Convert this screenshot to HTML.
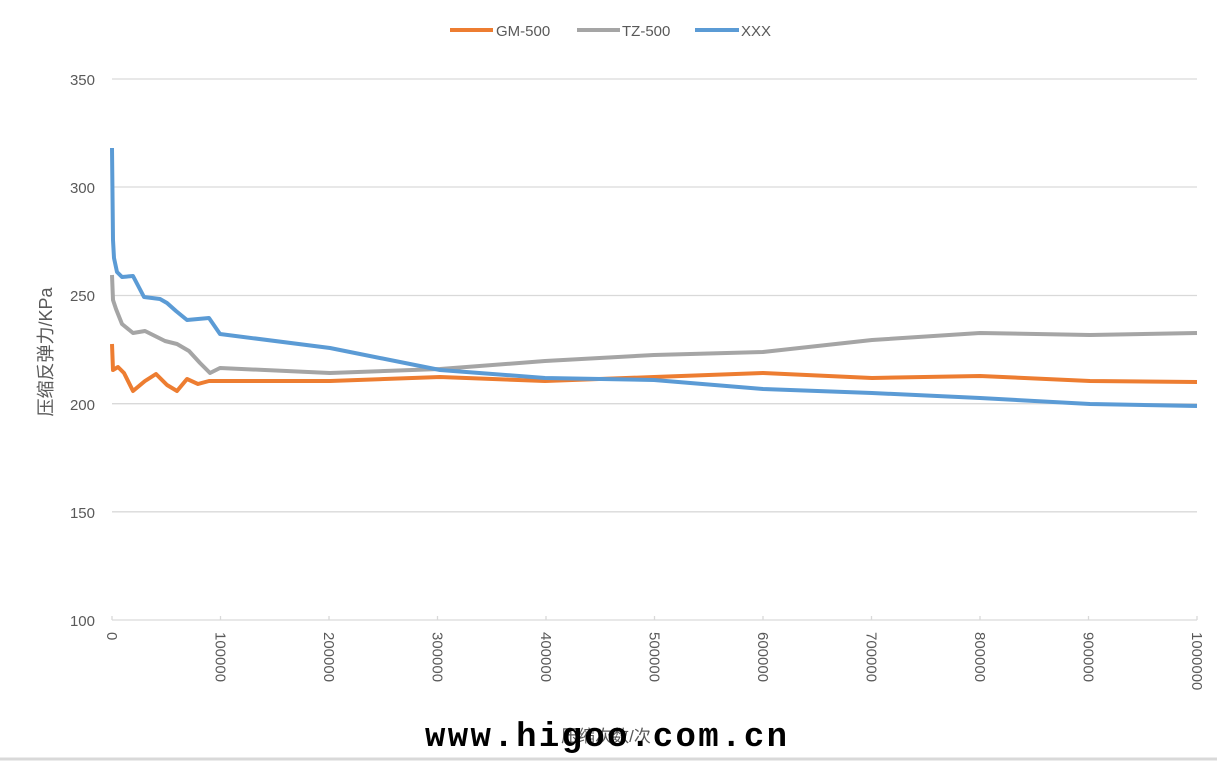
<!DOCTYPE html>
<html><head><meta charset="utf-8"><style>
body{margin:0;background:#fff;}
svg text{font-family:"Liberation Sans","Noto Sans CJK SC",sans-serif;fill:#595959;}
</style></head><body>
<svg width="1217" height="761" viewBox="0 0 1217 761" xmlns="http://www.w3.org/2000/svg">
<rect width="1217" height="761" fill="#fff"/>
<g stroke="#d9d9d9" stroke-width="1.3">
<line x1="112" y1="79" x2="1197" y2="79"/>
<line x1="112" y1="187" x2="1197" y2="187"/>
<line x1="112" y1="295.5" x2="1197" y2="295.5"/>
<line x1="112" y1="403.7" x2="1197" y2="403.7"/>
<line x1="112" y1="511.8" x2="1197" y2="511.8"/>
<line x1="112" y1="620" x2="1197" y2="620"/>
<line x1="112" y1="616" x2="112" y2="620"/><line x1="220.5" y1="616" x2="220.5" y2="620"/><line x1="329" y1="616" x2="329" y2="620"/><line x1="437.5" y1="616" x2="437.5" y2="620"/><line x1="546" y1="616" x2="546" y2="620"/><line x1="654.5" y1="616" x2="654.5" y2="620"/><line x1="763" y1="616" x2="763" y2="620"/><line x1="871.5" y1="616" x2="871.5" y2="620"/><line x1="980" y1="616" x2="980" y2="620"/><line x1="1088.5" y1="616" x2="1088.5" y2="620"/><line x1="1197" y1="616" x2="1197" y2="620"/>
</g>
<g font-size="15" text-anchor="end">
<text x="95" y="85">350</text><text x="95" y="193">300</text><text x="95" y="301">250</text><text x="95" y="410">200</text><text x="95" y="518">150</text><text x="95" y="626">100</text>
</g>
<g font-size="15">
<text transform="translate(107,632) rotate(90)">0</text>
<text transform="translate(215.5,632) rotate(90)">100000</text>
<text transform="translate(324,632) rotate(90)">200000</text>
<text transform="translate(432.5,632) rotate(90)">300000</text>
<text transform="translate(541,632) rotate(90)">400000</text>
<text transform="translate(649.5,632) rotate(90)">500000</text>
<text transform="translate(758,632) rotate(90)">600000</text>
<text transform="translate(866.5,632) rotate(90)">700000</text>
<text transform="translate(975,632) rotate(90)">800000</text>
<text transform="translate(1083.5,632) rotate(90)">900000</text>
<text transform="translate(1192,632) rotate(90)">1000000</text>
</g>
<text transform="translate(52,352) rotate(-90)" font-size="18" text-anchor="middle">压缩反弹力/KPa</text>
<g fill="none" stroke-width="4" stroke-linejoin="round">
<polyline stroke="#a5a5a5" points="112,275 113,300 116,309 122,324 133,333 145,331 157,337 165,341 177,344 189,351 200,363 210,373 220,368 330,373 440,369 545,361 654,355 763,352 872,340 980,333 1090,335 1197,333"/>
<polyline stroke="#ed7d31" points="112,344 113,370 118,367 124,373 133,391 145,381 156,374 167,385 177,391 187,379 198,384 209,381 220,381 330,381 440,377 545,381 654,377 763,373 872,378 980,376 1090,381 1197,382"/>
<polyline stroke="#5b9bd5" points="112,148 113,240 114,258 117,272 122,277 133,276 144,297 160,299 167,303 176,311 187,320 198,319 209,318 220,334 330,348 440,370 545,378 654,380 763,389 872,393 980,398 1090,404 1197,406"/>
</g>
<g font-size="15">
<line x1="450" y1="30" x2="493" y2="30" stroke="#ed7d31" stroke-width="4"/><text x="496" y="36">GM-500</text>
<line x1="577" y1="30" x2="620" y2="30" stroke="#a5a5a5" stroke-width="4"/><text x="622" y="36">TZ-500</text>
<line x1="695" y1="30" x2="739" y2="30" stroke="#5b9bd5" stroke-width="4"/><text x="741" y="36">XXX</text>
</g>
<text x="606" y="742" font-size="17" text-anchor="middle">压缩次数/次</text>
<text x="606" y="746" font-size="34" font-weight="bold" text-anchor="middle" style="font-family:'Liberation Mono',monospace;fill:#000" textLength="362">www.higoo.com.cn</text>
<line x1="0" y1="759" x2="1217" y2="759" stroke="#d9d9d9" stroke-width="3"/>
</svg>
</body></html>
